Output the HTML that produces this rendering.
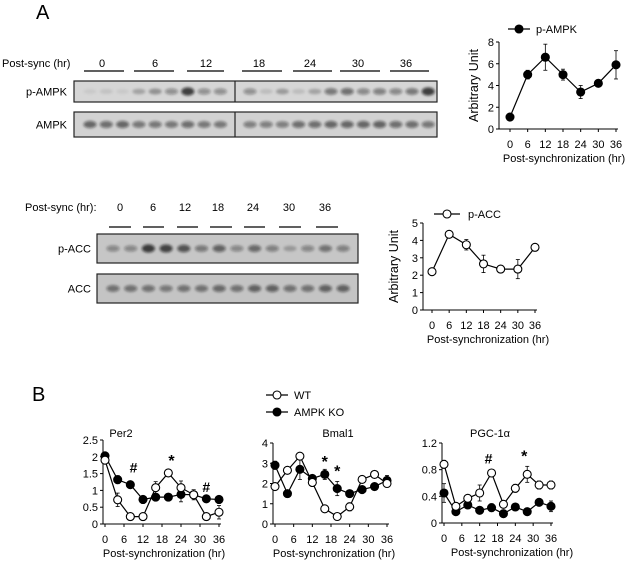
<!DOCTYPE html>
<html><head><meta charset="utf-8"><style>
html,body{margin:0;padding:0;background:#fff;}
svg{display:block;font-family:"Liberation Sans",sans-serif;}
</style></head><body>
<svg id="fig" width="627" height="567" viewBox="0 0 627 567">
<defs><filter id="blur" x="-50%" y="-100%" width="200%" height="300%"><feGaussianBlur stdDeviation="1.3"/></filter></defs>
<text x="36" y="19" font-size="20">A</text>
<text x="32" y="401" font-size="20">B</text>
<g id="blots"></g>
<g id="charts"></g>
</svg>
<script>
// ---- chart data ----
const ampkHours = [0, 6, 12, 18, 24, 30, 36];
const ampkValues = [1.1, 5.0, 6.6, 5.0, 3.4, 4.2, 5.9];
const ampkErrors = [0.2, 0.4, 1.2, 0.5, 0.6, 0.1, 1.3];
const ampkTicks = [0, 2, 4, 6, 8];
const accHours = [0, 6, 12, 18, 24, 30, 36];
const accValues = [2.2, 4.35, 3.75, 2.65, 2.35, 2.35, 3.6];
const accErrors = [0.1, 0.15, 0.3, 0.5, 0.05, 0.55, 0.2];
const accTicks = [0, 1, 2, 3, 4, 5];
const xTickLabels = [0, 6, 12, 18, 24, 30, 36];
const bHours = [0, 4, 8, 12, 16, 20, 24, 28, 32, 36];
const per2WT = [1.9, 0.72, 0.22, 0.22, 1.08, 1.52, 1.08, 0.87, 0.22, 0.35];
const per2WTErr = [0.1, 0.2, 0.1, 0.1, 0.18, 0.08, 0.2, 0.1, 0.08, 0.2];
const per2KO = [2.03, 1.32, 1.17, 0.73, 0.8, 0.8, 0.88, 0.87, 0.75, 0.73];
const per2KOErr = [0.1, 0.12, 0.1, 0.1, 0.08, 0.08, 0.22, 0.15, 0.05, 0.08];
const per2Ticks = [0, 0.5, 1, 1.5, 2, 2.5];
const bmalWT = [1.85, 2.65, 3.35, 2.05, 0.75, 0.37, 0.85, 2.2, 2.45, 2.0];
const bmalWTErr = [0.1, 0.15, 0.1, 0.1, 0.1, 0.1, 0.2, 0.1, 0.08, 0.1];
const bmalKO = [2.9, 1.5, 2.7, 2.25, 2.45, 1.75, 1.5, 1.7, 1.85, 2.15];
const bmalKOErr = [0.2, 0.1, 0.5, 0.1, 0.25, 0.35, 0.1, 0.1, 0.08, 0.25];
const bmalTicks = [0, 1, 2, 3, 4];
const pgcWT = [0.88, 0.25, 0.37, 0.45, 0.75, 0.28, 0.52, 0.73, 0.57, 0.57];
const pgcWTErr = [0.06, 0.04, 0.04, 0.12, 0.03, 0.03, 0.06, 0.12, 0.06, 0.06];
const pgcKO = [0.45, 0.17, 0.27, 0.19, 0.23, 0.14, 0.24, 0.17, 0.31, 0.25];
const pgcKOErr = [0.14, 0.04, 0.04, 0.04, 0.06, 0.03, 0.03, 0.05, 0.05, 0.08];
const pgcTicks = [0, 0.4, 0.8, 1.2];
// blot band intensities
const pAmpkBands = [0.08,0.12,0.08,0.3,0.4,0.45,0.95,0.45,0.45, 0.45,0.15,0.35,0.15,0.3,0.6,0.65,0.5,0.55,0.5,0.6,0.95];
const ampkBands = [0.7,0.65,0.7,0.6,0.6,0.6,0.65,0.6,0.6, 0.55,0.55,0.55,0.65,0.65,0.7,0.7,0.7,0.72,0.65,0.65,0.6];
const pAccBands = [0.45,0.45,0.95,0.9,0.8,0.55,0.7,0.45,0.65,0.5,0.3,0.45,0.6,0.5];
const accBands = [0.6,0.6,0.6,0.55,0.6,0.6,0.65,0.6,0.7,0.7,0.6,0.6,0.7,0.7];

const NS = "http://www.w3.org/2000/svg";
const FS = 11;
function mk(parent, tag, attrs, text) {
  const e = document.createElementNS(NS, tag);
  for (const k in attrs) e.setAttribute(k, attrs[k]);
  if (text !== undefined) e.textContent = text;
  parent.appendChild(e);
  return e;
}
const blots = document.getElementById('blots');
const charts = document.getElementById('charts');

function timeHeader(labelText, lx, ly, centers, segs, uy, name) {
  const t = mk(blots, 'text', {x: lx, y: ly + 4, 'font-size': FS});
  t.textContent = labelText;
  
  
  xTickLabels.forEach((h, i) => {
    const tl = mk(blots, 'text', {x: centers[i], y: ly + 4, 'font-size': FS, 'text-anchor': 'middle'}, String(h));
    
    
    const ln = mk(blots, 'line', {x1: segs[i][0], x2: segs[i][1], y1: uy, y2: uy, stroke: '#000', 'stroke-width': 1.2});
    
    
  });
}
function blot(name, label, x0, x1, y0, y1, lanes, bands, labelRight, divider, bg) {
  const g = mk(blots, 'g', {});
  
  
  mk(g, 'rect', {x: x0, y: y0, width: x1 - x0, height: y1 - y0, fill: bg, stroke: '#222', 'stroke-width': 1.2});
  const cy = (y0 + y1) / 2;
  bands.forEach((v, i) => {
    const b = mk(g, 'ellipse', {cx: lanes[i], cy: cy, rx: 6.5, ry: 2.2 + v * 2, fill: '#111', 'fill-opacity': v * 0.8, filter: 'url(#blur)'});
    
    
  });
  if (divider) mk(g, 'line', {x1: divider, x2: divider, y1: y0, y2: y1, stroke: '#222', 'stroke-width': 1.2});
  const t = mk(blots, 'text', {x: labelRight, y: cy + 4, 'font-size': FS, 'text-anchor': 'end'}, label);
  
  
}
// top blots
timeHeader('Post-sync (hr)', 2, 63, [102,155,206,259,310,358,406],
  [[84,124],[134,174],[187,224],[242,282],[293,332],[340,380],[390,429]], 71, 'ampk-blot');
const ampkLanes = [];
for (let i = 0; i < 9; i++) ampkLanes.push(90 + i * 16.3);
for (let i = 0; i < 12; i++) ampkLanes.push(250 + i * 16.2);
blot('p-ampk-blot', 'p-AMPK', 74, 437, 81, 102, ampkLanes, pAmpkBands, 67, 235, '#d6d6d6');
blot('ampk-blot', 'AMPK', 74, 437, 112, 137, ampkLanes, ampkBands, 67, 235, '#d2d2d2');
// acc blots
timeHeader('Post-sync (hr):', 25, 207, [120,153,185,218,253,289,325],
  [[109,131],[143,164],[177,198],[210,232],[244,265],[279,301],[316,338]], 227, 'acc-blot');
const accLanes = [];
for (let i = 0; i < 14; i++) accLanes.push(113 + i * 17.7);
blot('p-acc-blot', 'p-ACC', 97, 358, 234, 263, accLanes, pAccBands, 91, null, '#c6c6c6');
blot('acc-blot', 'ACC', 97, 358, 274, 303, accLanes, accBands, 91, null, '#c4c4c4');

function lineChart(o) {
  const g = mk(charts, 'g', {});
  
  
  const ymax = o.ticks[o.ticks.length - 1];
  const sx = h => o.x0 + (h / 36) * (o.x36 - o.x0);
  const sy = v => o.y0 - (v / ymax) * (o.y0 - o.yTop);
  mk(g, 'line', {x1: o.ax, x2: o.ax, y1: o.yTop, y2: o.y0, stroke: '#000', 'stroke-width': 1});
  mk(g, 'line', {x1: o.ax, x2: o.x36 + 2, y1: o.y0, y2: o.y0, stroke: '#000', 'stroke-width': 1});
  o.ticks.forEach(t => {
    mk(g, 'line', {x1: o.ax - 3, x2: o.ax, y1: sy(t), y2: sy(t), stroke: '#000'});
    const tl = mk(g, 'text', {x: o.ax - 5, y: sy(t) + 4, 'font-size': FS, 'text-anchor': 'end'}, String(t));
    
    
  });
  xTickLabels.forEach(h => {
    mk(g, 'line', {x1: sx(h), x2: sx(h), y1: o.y0, y2: o.y0 + 3, stroke: '#000'});
    const tl = mk(g, 'text', {x: sx(h), y: o.y0 + 19, 'font-size': FS, 'text-anchor': 'middle'}, String(h));
    
    
  });
  const xt = mk(g, 'text', {x: o.titleX, y: o.y0 + 33, 'font-size': FS, 'text-anchor': 'middle'}, 'Post-synchronization (hr)');
  
  
  if (o.ylabel) {
    const yt = mk(g, 'text', {x: 0, y: 0, 'font-size': 12.5, 'text-anchor': 'middle', transform: `translate(${o.ylabelX},${(o.yTop + o.y0) / 2}) rotate(-90)`}, 'Arbitrary  Unit');
    
    
  }
  if (o.title) {
    const tt = mk(g, 'text', {x: o.title[1], y: 437, 'font-size': FS, 'text-anchor': 'middle'}, o.title[0]);
    
    
  }
  o.series.forEach(s => {
    const pts = s.vals.map((v, i) => [sx(s.hours[i]), sy(v)]);
    s.errs.forEach((e, i) => {
      const [x] = pts[i];
      const ya = sy(s.vals[i] + e), yb = sy(Math.max(0, s.vals[i] - e));
      mk(g, 'line', {x1: x, x2: x, y1: ya, y2: yb, stroke: '#000', 'stroke-width': 0.8});
      mk(g, 'line', {x1: x - 2, x2: x + 2, y1: ya, y2: ya, stroke: '#000', 'stroke-width': 0.8});
      mk(g, 'line', {x1: x - 2, x2: x + 2, y1: yb, y2: yb, stroke: '#000', 'stroke-width': 0.8});
    });
    const pl = mk(g, 'polyline', {points: pts.map(p => p.join(',')).join(' '), fill: 'none', stroke: '#000', 'stroke-width': 1.2});
    
    
    pts.forEach(p => {
      const c = mk(g, 'circle', {cx: p[0], cy: p[1], r: 4, fill: s.filled ? '#000' : '#fff', stroke: '#000', 'stroke-width': 1.1});
      
      
    });
  });
  (o.marks || []).forEach(m => {
    const t = mk(g, 'text', {x: sx(m[1]), y: sy(m[2]) + 5, 'font-size': m[0] === '*' ? 16 : 14, 'font-weight': 'bold', 'text-anchor': 'middle'}, m[0]);
    
    
  });
}
function legendEntry(x1, x2, y, filled, label, tx, name) {
  const g = mk(charts, 'g', {});
  
  
  mk(g, 'line', {x1: x1, x2: x2, y1: y, y2: y, stroke: '#000', 'stroke-width': 1.2});
  mk(g, 'circle', {cx: (x1 + x2) / 2, cy: y, r: 4, fill: filled ? '#000' : '#fff', stroke: '#000', 'stroke-width': 1.1});
  mk(g, 'text', {x: tx, y: y + 4, 'font-size': FS}, label);
}

lineChart({name: 'p-ampk-chart', ax: 499, x0: 510, x36: 616, y0: 129, yTop: 42, ticks: ampkTicks,
  titleX: 564, ylabel: true, ylabelX: 478,
  series: [{name: 'p-ampk', hours: ampkHours, vals: ampkValues, errs: ampkErrors, filled: true}]});
legendEntry(508, 530, 29, true, 'p-AMPK', 536, 'legend-p-ampk');

lineChart({name: 'p-acc-chart', ax: 423, x0: 432, x36: 535, y0: 310, yTop: 223, ticks: accTicks,
  titleX: 488, ylabel: true, ylabelX: 398,
  series: [{name: 'p-acc', hours: accHours, vals: accValues, errs: accErrors, filled: false}]});
legendEntry(434, 460, 214, false, 'p-ACC', 468, 'legend-p-acc');

legendEntry(266, 288, 395, false, 'WT', 294, 'legend-wt');
legendEntry(266, 288, 412, true, 'AMPK KO', 294, 'legend-ampk-ko');

lineChart({name: 'per2-chart', ax: 103, x0: 105, x36: 219, y0: 524, yTop: 440, ticks: per2Ticks,
  titleX: 164, title: ['Per2', 121],
  series: [{name: 'per2-ko', hours: bHours, vals: per2KO, errs: per2KOErr, filled: true},
           {name: 'per2-wt', hours: bHours, vals: per2WT, errs: per2WTErr, filled: false}],
  marks: [['#', 9, 1.68], ['*', 21, 1.88], ['#', 32, 1.1]]});
lineChart({name: 'bmal1-chart', ax: 273, x0: 275, x36: 387, y0: 524, yTop: 443, ticks: bmalTicks,
  titleX: 334, title: ['Bmal1', 338],
  series: [{name: 'bmal1-ko', hours: bHours, vals: bmalKO, errs: bmalKOErr, filled: true},
           {name: 'bmal1-wt', hours: bHours, vals: bmalWT, errs: bmalWTErr, filled: false}],
  marks: [['*', 16, 3.05], ['*', 20, 2.6]]});
lineChart({name: 'pgc1a-chart', ax: 442, x0: 444, x36: 551, y0: 523, yTop: 443, ticks: pgcTicks,
  titleX: 512, title: ['PGC-1α', 490],
  series: [{name: 'pgc1a-ko', hours: bHours, vals: pgcKO, errs: pgcKOErr, filled: true},
           {name: 'pgc1a-wt', hours: bHours, vals: pgcWT, errs: pgcWTErr, filled: false}],
  marks: [['#', 15, 0.97], ['*', 27, 1.0]]});
</script>
</body></html>
